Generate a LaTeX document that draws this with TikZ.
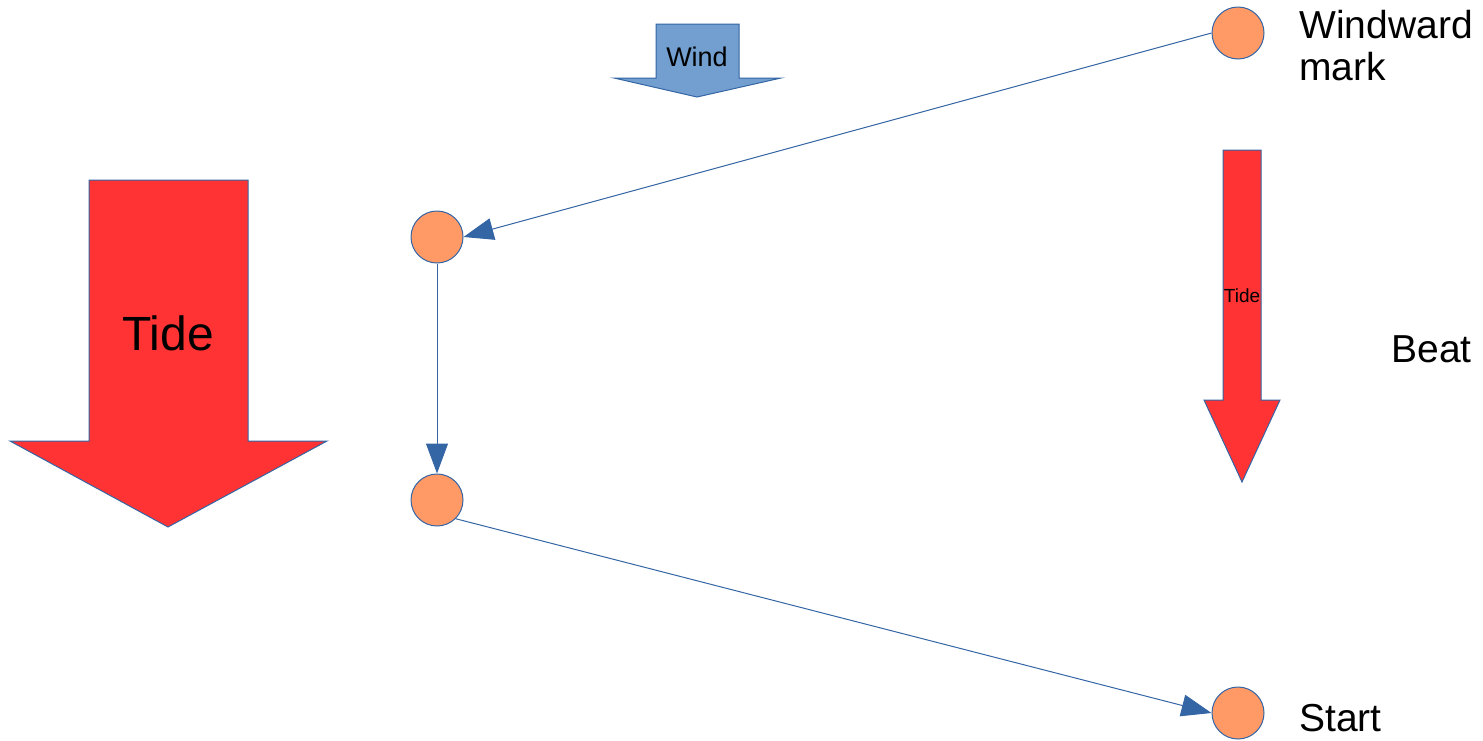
\documentclass[tikz,border=0pt]{standalone}
\usepackage{fontspec}
\setmainfont{Liberation Sans}
\usepackage{xcolor}
\usetikzlibrary{arrows.meta,positioning,calc}

\definecolor{markfill}{HTML}{FF9966}
\definecolor{lineblue}{HTML}{3465A4}
\definecolor{windfill}{HTML}{729FCF}
\definecolor{tidefill}{HTML}{FF3333}

\begin{document}
\begin{tikzpicture}[x=0.5pt, y=-0.5pt,
  buoy/.style={draw=lineblue, line width=0.5pt, fill=markfill, circle, minimum size=26pt, inner sep=0pt},
  leg/.style={draw=lineblue, line width=0.5pt, -{Triangle[length=15pt, width=11pt]}},
  marklabel/.style={align=left, anchor=west, inner sep=0pt, font=\fontsize{19.5}{21}\selectfont}]

\useasboundingbox (0,0) rectangle (1483,740);

% Wind arrow
\draw[draw=lineblue, line width=0.5pt, fill=windfill] (656,24) -- (739,24) -- (739,78) -- (781,78) -- (697,97) -- (614,78) -- (656,78) -- cycle;
\node[inner sep=0pt, font=\fontsize{13.5}{15}\selectfont] (wind) at (697,57) {Wind};

% Tide arrows
\draw[draw=lineblue, line width=0.5pt, fill=tidefill] (89,180) -- (248,180) -- (248,441) -- (327,441) -- (168,527) -- (10,441) -- (89,441) -- cycle;
\node[inner sep=0pt, font=\fontsize{24}{26}\selectfont] (tide) at (168,333) {Tide};
\draw[draw=lineblue, line width=0.5pt, fill=tidefill] (1223,150) -- (1261,150) -- (1261,400) -- (1280,400) -- (1242,482) -- (1204,400) -- (1223,400) -- cycle;
\node[inner sep=0pt, font=\fontsize{9.5}{11}\selectfont] (tidesmall) at (1242,296) {Tide};

% Marks
\node[buoy] (windward) at (1238,33) {};
\node[buoy] (gybe) at (437,237) {};
\node[buoy] (leeward) at (437,500) {};
\node[buoy] (start) at (1238,713) {};

% Labels
\node[marklabel] (windwardtext) at (1299,46) {Windward\\mark};
\node[marklabel] (starttext) at (1299,718) {Start};
\node[marklabel] (beattext) at (1391,349) {Beat};

% Legs
\draw[leg] (windward.west) -- (gybe.east);
\draw[leg] (gybe.south) -- (leeward.north);
\draw[leg] (leeward.south east) -- (start.west);

\end{tikzpicture}
\end{document}
